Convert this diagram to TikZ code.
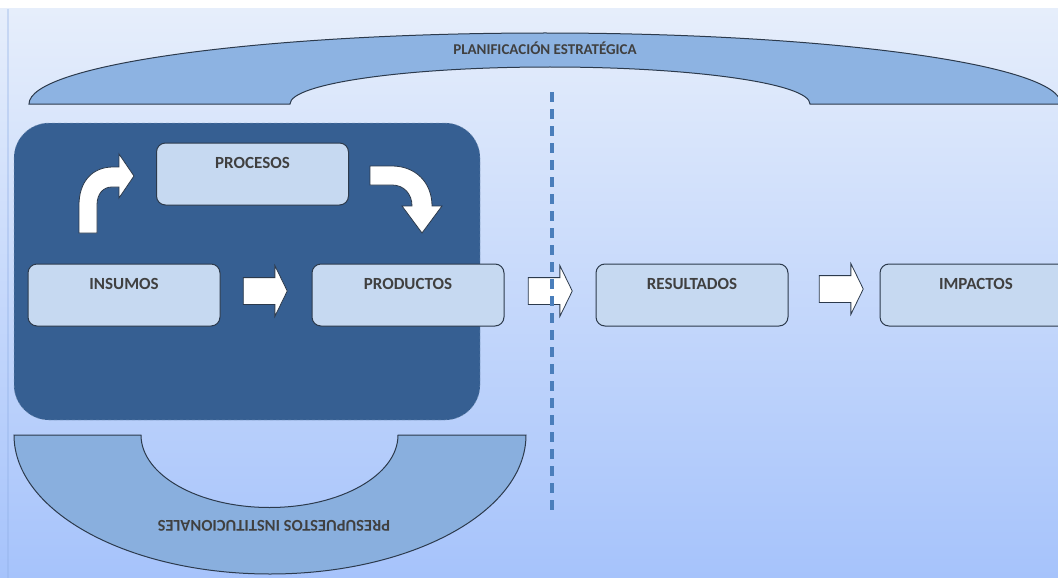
\documentclass[tikz,border=0pt]{standalone}
\usepackage{fontspec}
\setmainfont{Carlito}
\usetikzlibrary{positioning,calc,shapes.arrows}
\definecolor{fondoarriba}{RGB}{230,238,251}
\definecolor{fondoabajo}{RGB}{166,195,251}
\definecolor{marino}{RGB}{54,95,146}
\definecolor{celeste}{RGB}{198,217,241}
\definecolor{arco}{RGB}{141,179,226}
\definecolor{borde}{RGB}{44,58,76}
\definecolor{texto}{RGB}{64,64,64}
\definecolor{guion}{RGB}{74,126,187}
\tikzset{
  etapa/.style={draw=borde, fill=celeste, line width=1pt, rounded corners=9pt,
    minimum width=192pt, minimum height=62pt, inner sep=0pt,
    text height=12pt, text depth=23pt, text=texto,
    font=\fontsize{17}{20}\selectfont\bfseries},
  flecha/.style={single arrow, draw=borde, fill=white, line width=0.8pt,
    inner xsep=0pt, inner ysep=13pt, single arrow head extend=12pt,
    single arrow tip angle=128, minimum height=44pt},
  bloque/.style={draw=borde, fill=white, line width=0.8pt},
  franja/.style={draw=borde, fill=arco, line width=1pt},
  rotulo/.style={text=texto, font=\fontsize{15}{18}\selectfont\bfseries},
}

\begin{document}
\begin{tikzpicture}[x=1pt,y=-1pt]
\useasboundingbox (0,0) rectangle (1058,578);
% fondo
\shade[top color=fondoarriba, bottom color=fondoabajo] (0,9) rectangle (1058,578);
\draw[line width=2pt, fondoabajo!80!marino, opacity=0.35] (8,9) -- (8,578);

% planificacion
\draw[franja] (29,104) arc[start angle=180, end angle=0, x radius=516pt, y radius=71pt]
  -- (810,104) arc[start angle=0, end angle=180, x radius=260pt, y radius=37pt] -- cycle;
\node[rotulo] (plan) at (545,48) {PLANIFICACIÓN ESTRATÉGICA};

% presupuestos
\draw[franja, fill=arco!95!marino] (14,435) arc[start angle=180, end angle=360, x radius=256pt, y radius=139pt]
  -- (398,435) arc[start angle=0, end angle=-180, x radius=128.5pt, y radius=72.5pt] -- cycle;
\node[rotulo, font=\fontsize{16.5}{18}\selectfont\bfseries, rotate=180] (presu) at (274,526) {PRESUPUESTOS INSTITUCIONALES};

% bloque interno
\node[draw=marino!60!white, dashed, fill=marino, rounded corners=35pt,
  minimum width=466pt, minimum height=297pt] (nucleo) at (247,271.5) {};

\node[etapa] (procesos) at (252.5,174) {PROCESOS};
\node[etapa] (insumos) at (124,295) {INSUMOS};
\node[etapa, right=91pt of insumos] (productos) {PRODUCTOS};
\node[etapa, right=91pt of productos] (resultados) {RESULTADOS};
\node[etapa, right=91pt of resultados] (impactos) {IMPACTOS};

\node[flecha] (f1) at ($(insumos.east)!0.5!(productos.west)+(-4,-4)$) {};
\node[flecha] (f2) at ($(productos.east)!0.5!(resultados.west)+(-3,-4)$) {};
\node[flecha] (f3) at ($(resultados.east)!0.5!(impactos.west)+(4,-6)$) {};

% flechas curvas
\draw[bloque] (79,233) -- (79,205) .. controls (79,182) and (92,167) .. (113,167)
  -- (119,167) -- (119,154) -- (134,176) -- (119,198) -- (119,187) -- (112,187)
  .. controls (103,187) and (97,194) .. (97,205) -- (97,233) -- cycle;
\draw[bloque] (370,166) -- (392,166) .. controls (415,166) and (432,182) .. (432,206)
  -- (442,206) -- (422,233) -- (402,206) -- (412,206)
  .. controls (412,194) and (404,185) .. (392,185) -- (370,185) -- cycle;

% division
\coordinate (corte1) at (552,92);
\coordinate (corte2) at (552,515);
\draw[guion, line width=4pt, dash pattern=on 10pt off 7pt] (corte1) -- (corte2);
\end{tikzpicture}
\end{document}
